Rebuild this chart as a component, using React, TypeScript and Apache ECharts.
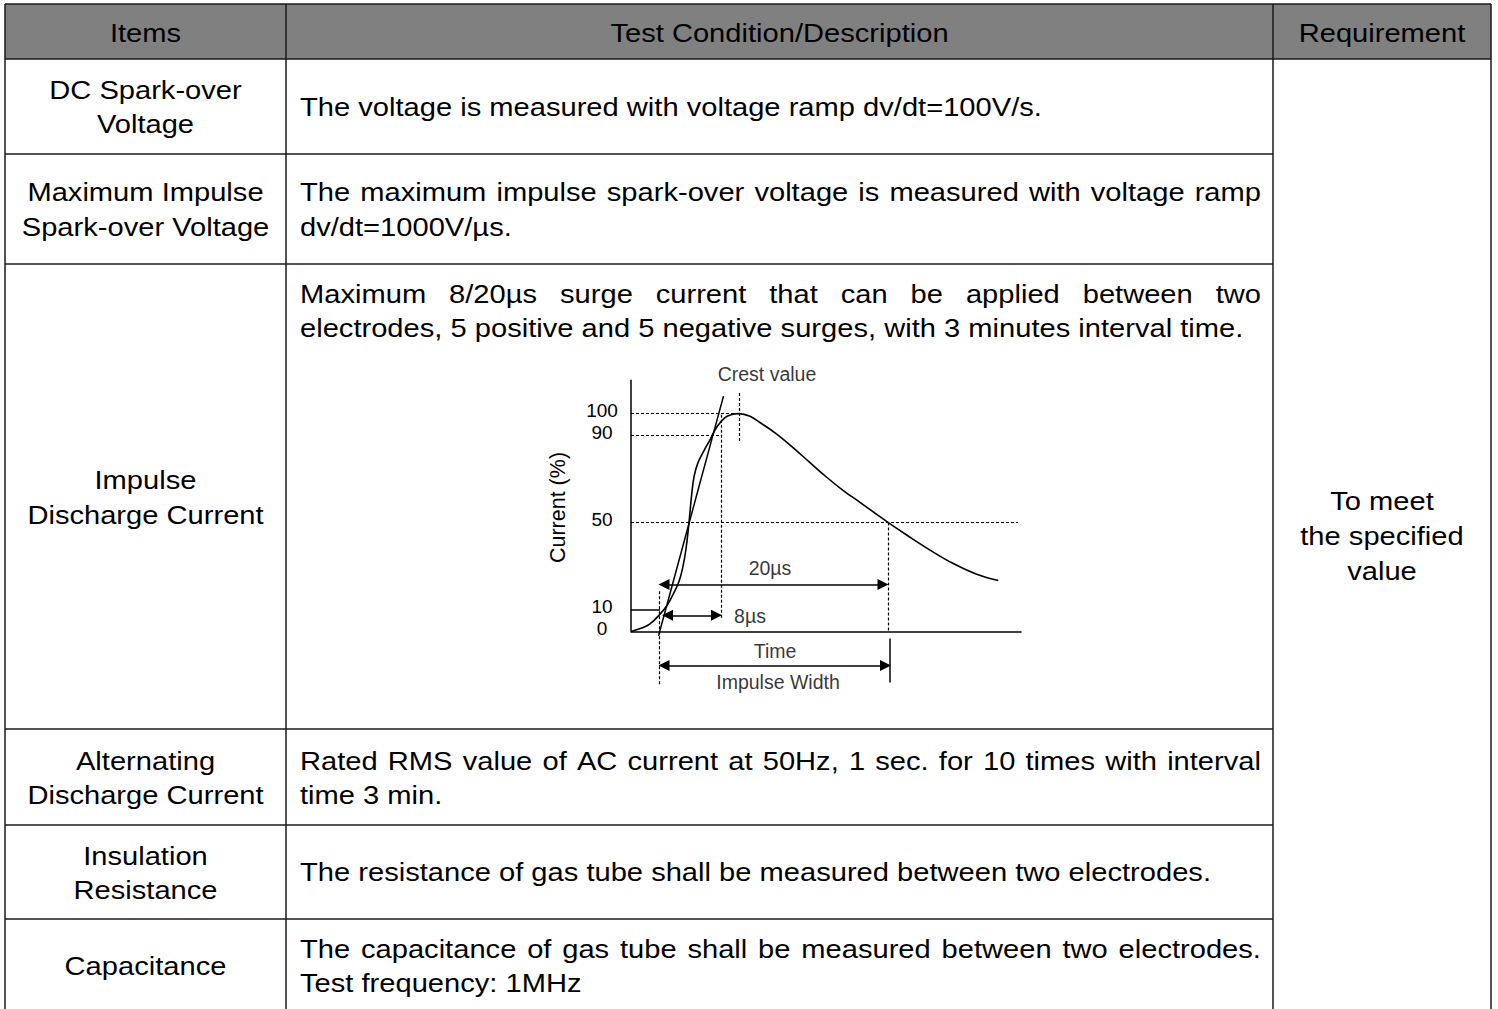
import React, { useEffect, useRef } from "react";
import * as echarts from "echarts";

// ---------- Table content ----------
const headerTitles = ["Items", "Test Condition/Description", "Requirement"];
const itemNames: string[][] = [
  ["DC Spark-over", "Voltage"],
  ["Maximum Impulse", "Spark-over Voltage"],
  ["Impulse", "Discharge Current"],
  ["Alternating", "Discharge Current"],
  ["Insulation", "Resistance"],
  ["Capacitance"],
];
const descTexts: string[][] = [
  ["The voltage is measured with voltage ramp dv/dt=100V/s."],
  ["The maximum impulse spark-over voltage is measured with voltage ramp", "dv/dt=1000V/µs."],
  ["Maximum 8/20µs surge current that can be applied between two", "electrodes, 5 positive and 5 negative surges, with 3 minutes interval time."],
  ["Rated RMS value of AC current at 50Hz, 1 sec. for 10 times with interval", "time 3 min."],
  ["The resistance of gas tube shall be measured between two electrodes."],
  ["The capacitance of gas tube shall be measured between two electrodes.", "Test frequency: 1MHz"],
];
const descJustified: boolean[][] = [[false], [true, false], [true, false], [true, false], [false], [true, false]];
const requirementText = ["To meet", "the specified", "value"];

// ---------- Chart data (x in arbitrary time units, y in % of crest) ----------
const waveX = [0, 1.0, 1.9, 2.9, 3.6, 4.2, 4.8, 5.2, 5.5, 5.8, 6.05, 6.3, 6.7, 7.3, 7.9, 8.6, 9.4, 10.1, 10.8, 11.9, 12.9, 14.57, 16.23, 17.9, 19.57, 21.23, 22.9, 24.57, 25.73, 27.57, 29.9, 32.23, 34.57, 36.73];
const waveY = [0, 1.5, 3.5, 8, 12, 17, 23, 30, 38, 50, 62, 71, 77.5, 83, 88, 94, 98.2, 99.6, 100, 98.8, 95.9, 90.6, 84.3, 77.5, 70.8, 64.7, 59.3, 53.8, 50, 44.3, 37.4, 31.2, 26.3, 23.4];
const frontX = [2.75, 9.25];
const frontY = [-2, 108];
const yAxisLineX = [0, 0];
const yAxisLineY = [0, 115.5];
const yTickLabels = [0, 10, 50, 90, 100];
// [x1, y1, x2, y2]
const dottedSegments = [
  [0, 100, 10.8, 100],
  [0, 90, 9.0, 90],
  [0, 50, 38.7, 50],
  [10.8, 109.5, 10.8, 86.5],
  [9.0, 99.5, 9.0, 5.5],
  [25.7, 50, 25.7, 0],
  [2.85, 18.5, 2.85, -24.5],
];
const solidSegments = [
  [0, 10, 2.9, 10],
  [25.9, -3.2, 25.9, -23.4],
];
const arrowSegments = [
  [3.3, 21.6, 25.2, 21.6],
  [3.65, 7.5, 8.55, 7.5],
  [3.3, -15.6, 25.45, -15.6],
];
const annotationTexts = ["Crest value", "20µs", "8µs", "Time", "Impulse Width"];
const annotationX = [13.6, 13.9, 11.9, 14.4, 14.7];
const annotationY = [118.3, 29, 7.3, -9, -23.3];

// ---------- Layout ----------
const W = 1498;
const H = 1009;
const FONT = "Liberation Sans";
const FS = 26;
const SX = 1.12;
const colX = [5, 286, 1273, 1491];
const rowY = [4, 59, 154, 264, 729, 825, 919, 1009];
const headerY = 33;
const itemLineY = [[90, 124], [192, 227], [480, 515], [761, 795], [856, 890], [966]];
const descLineY = [[107], [192, 227], [294, 328], [761, 795], [872], [949, 983]];
const reqLineY = [501, 536, 571];
const descX0 = 300;
const descX1 = 1261;

let measureCtx: CanvasRenderingContext2D | null = null;
function measure(text: string, size: number) {
  if (!measureCtx) measureCtx = document.createElement("canvas").getContext("2d");
  measureCtx!.font = `${size}px "${FONT}"`;
  return measureCtx!.measureText(text).width;
}

function txt(text: string, x: number, y: number, align = "center") {
  return {
    type: "text",
    x,
    y,
    scaleX: SX,
    silent: true,
    style: { text, x: 0, y: 0, fill: "#000", fontSize: FS, fontFamily: FONT, align, verticalAlign: "middle" },
  };
}

function justifiedLine(text: string, x0: number, x1: number, y: number) {
  const words = text.split(" ");
  const ws = words.map((w) => measure(w, FS) * SX);
  const total = ws.reduce((a, b) => a + b, 0);
  const gap = words.length > 1 ? (x1 - x0 - total) / (words.length - 1) : 0;
  let x = x0;
  return words.map((w, i) => {
    const el = txt(w, x, y, "left");
    x += ws[i] + gap;
    return el;
  });
}

function buildGraphic() {
  const els: any[] = [];
  const stroke = { stroke: "#1a1a1a", lineWidth: 1.5 };
  els.push({ type: "rect", silent: true, shape: { x: colX[0], y: rowY[0], width: colX[3] - colX[0], height: rowY[1] - rowY[0] }, style: { fill: "#808080" } });
  els.push({ type: "line", silent: true, shape: { x1: colX[0], y1: rowY[0], x2: colX[3], y2: rowY[0] }, style: stroke });
  els.push({ type: "line", silent: true, shape: { x1: colX[0], y1: rowY[1], x2: colX[3], y2: rowY[1] }, style: stroke });
  for (let r = 2; r < rowY.length - 1; r++) {
    els.push({ type: "line", silent: true, shape: { x1: colX[0], y1: rowY[r], x2: colX[2], y2: rowY[r] }, style: stroke });
  }
  colX.forEach((x) => {
    els.push({ type: "line", silent: true, shape: { x1: x, y1: rowY[0], x2: x, y2: H }, style: stroke });
  });
  headerTitles.forEach((t, i) => els.push(txt(t, (colX[i] + colX[i + 1]) / 2, headerY)));
  itemNames.forEach((lines, r) => lines.forEach((t, k) => els.push(txt(t, (colX[0] + colX[1]) / 2, itemLineY[r][k]))));
  descTexts.forEach((lines, r) =>
    lines.forEach((t, k) => {
      const y = descLineY[r][k];
      if (descJustified[r][k]) els.push(...justifiedLine(t, descX0, descX1, y));
      else els.push(txt(t, descX0, y, "left"));
    })
  );
  requirementText.forEach((t, k) => els.push(txt(t, (colX[2] + colX[3]) / 2, reqLineY[k])));
  return els;
}

function seg(s: number[], extra: any) {
  return [
    { coord: [s[0], s[1]], ...extra },
    { coord: [s[2], s[3]] },
  ];
}

export default function App() {
  const ref = useRef<HTMLDivElement>(null);
  useEffect(() => {
    document.body.style.margin = "0";
    const chart = echarts.init(ref.current!, null, { renderer: "svg" });
    const dotted = { type: [3, 2], width: 1.2, color: "#000" };
    const solid = { type: "solid", width: 1.5, color: "#000" };
    const markData: any[] = [
      ...dottedSegments.map((s) => seg(s, { lineStyle: dotted, symbol: "none" })),
      ...solidSegments.map((s) => seg(s, { lineStyle: solid, symbol: "none" })),
      ...arrowSegments.map((s) => [
        { coord: [s[0], s[1]], symbol: "triangle", lineStyle: solid },
        { coord: [s[2], s[3]], symbol: "triangle" },
      ]),
    ];
    const option: any = {
      animation: false,
      graphic: { elements: buildGraphic() },
      grid: { left: 631, width: 390, top: 370, height: 327, containLabel: false },
      xAxis: {
        type: "value",
        min: 0,
        max: 39,
        axisLine: { show: true, onZero: true, lineStyle: { color: "#000", width: 1.5 } },
        axisTick: { show: false },
        axisLabel: { show: false },
        splitLine: { show: false },
      },
      yAxis: {
        type: "value",
        min: -30,
        max: 120,
        interval: 5,
        axisLine: { show: false },
        axisTick: { show: false },
        splitLine: { show: false },
        axisLabel: {
          show: true,
          color: "#000",
          fontSize: 19,
          fontFamily: FONT,
          align: "center",
          verticalAlign: "bottom",
          lineHeight: 6,
          margin: 29,
          formatter: (v: number) => (yTickLabels.includes(v) ? String(v) : ""),
        },
        name: "Current (%)",
        nameLocation: "middle",
        nameRotate: 90,
        nameGap: 62,
        nameTextStyle: { color: "#000", fontSize: 21.5, fontFamily: FONT, padding: [0, 0, 0, 52] },
      },
      series: [
        {
          name: "y axis",
          type: "line",
          data: yAxisLineX.map((x, i) => [x, yAxisLineY[i]]),
          symbol: "none",
          clip: false,
          silent: true,
          lineStyle: { color: "#000", width: 1.5 },
        },
        {
          name: "Impulse current",
          type: "line",
          data: waveX.map((x, i) => [x, waveY[i]]),
          smooth: 0.4,
          symbol: "none",
          silent: true,
          clip: false,
          lineStyle: { color: "#000", width: 1.6 },
          markLine: {
            silent: true,
            animation: false,
            symbol: "none",
            symbolSize: 11,
            label: { show: false },
            lineStyle: solid,
            emphasis: { disabled: true },
            data: markData,
          },
        },
        {
          name: "Front line",
          type: "line",
          data: frontX.map((x, i) => [x, frontY[i]]),
          symbol: "none",
          silent: true,
          clip: false,
          lineStyle: { color: "#000", width: 1.5 },
        },
        {
          name: "Annotations",
          type: "scatter",
          data: annotationX.map((x, i) => ({ value: [x, annotationY[i]], name: annotationTexts[i] })),
          symbolSize: 1,
          silent: true,
          clip: false,
          itemStyle: { color: "transparent" },
          label: { show: true, position: "inside", formatter: "{b}", color: "#000", fontSize: 19.5, fontFamily: FONT },
        },
      ],
    };
    chart.setOption(option);
    return () => chart.dispose();
  }, []);
  return <div ref={ref} style={{ width: W, height: H }} />;
}
